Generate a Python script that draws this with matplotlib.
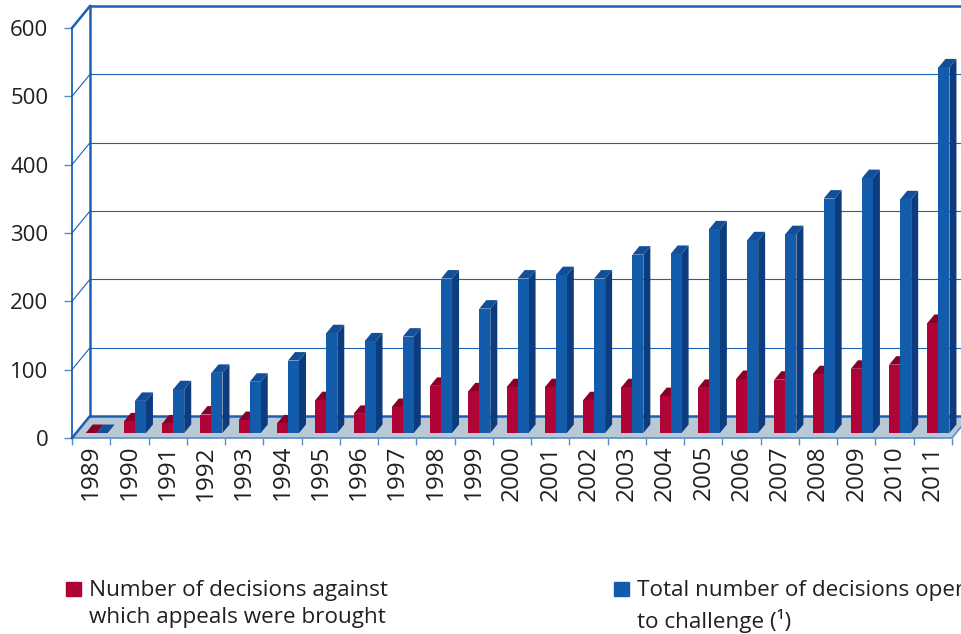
import matplotlib
matplotlib.use("Agg")
import matplotlib.pyplot as plt
import numpy as np

plt.rcParams["font.family"] = ["Open Sans", "DejaVu Sans"]

years = [str(y) for y in range(1989, 2012)]
appeals = [0, 17, 14, 27, 19, 14, 48, 28, 38, 69, 61, 67, 67, 48, 67, 54, 66, 79, 78, 86, 94, 100, 161]
total = [0, 47, 64, 88, 75, 106, 146, 134, 141, 226, 182, 226, 231, 226, 261, 262, 298, 282, 291, 343, 373, 342, 535]
y_ticks = [0, 100, 200, 300, 400, 500, 600]

W, H = 961, 634
TEXT = "#231f20"
LINE = "#1a60b4"
TICK = "#5b8cc8"

# pixel <-> data scale of the front plane
px_x = 1 / 38.26
px_y = 600 / 410

fig = plt.figure(figsize=(W / 100, H / 100), dpi=100)
ax = fig.add_axes([72 / W, 1 - 438 / H, 880 / W, 410 / H])
ax.set_xlim(0, 23)
ax.set_ylim(0, 600)
ax.patch.set_visible(False)
for s in ["top", "right", "bottom"]:
    ax.spines[s].set_visible(False)
ax.spines["left"].set_color(LINE)
ax.spines["left"].set_linewidth(1.3)

wall_dx = 18 * px_x
wall_dy = 22 * px_y
right = 25

# floor
ax.fill([0, 23, 23 + wall_dx, right, wall_dx], [0, 0, wall_dy, wall_dy, wall_dy],
        color="#b9c8d5", clip_on=False, zorder=1, lw=0)
ax.plot([0, 23, 23 + wall_dx], [0, 0, wall_dy], color=TICK, lw=1.2, clip_on=False, zorder=1.5)

# back wall and grid
for v in y_ticks:
    thick = v in (0, 600)
    lw = 1.8 if thick else 0.8
    ax.plot([wall_dx, right], [v + wall_dy, v + wall_dy], color=LINE, lw=lw, clip_on=False, zorder=2)
    ax.plot([0, wall_dx], [v, v + wall_dy], color=LINE, lw=lw, clip_on=False, zorder=2)
ax.plot([wall_dx, wall_dx], [wall_dy, 600 + wall_dy], color=LINE, lw=1.8, clip_on=False, zorder=2)

# bars
bar_w = 11 * px_x
bar_off = 13.7 * px_x
base = 5 * px_y
dep_x = 7 * px_x
dep_y = 8.5 * px_y


def draw_bars(x, vals, front, side, cap, z):
    ax.bar(x, vals, width=bar_w, bottom=base, align="edge", color=front, lw=0, zorder=z + 0.2)
    for xi, v in zip(x, vals):
        top = base + v
        xr = xi + bar_w
        ax.fill([xr, xr + dep_x, xr + dep_x, xr],
                [base, base + dep_y, top + dep_y, top], color=side, lw=0, clip_on=False, zorder=z)
        ax.fill([xi, xr, xr + dep_x, xi + dep_x],
                [top, top, top + dep_y, top + dep_y], color=cap, lw=0, clip_on=False, zorder=z + 0.1)


pos = np.arange(len(years))
draw_bars(pos + bar_off, appeals, "#b00336", "#7d0026", "#8a0029", 3)
draw_bars(pos + bar_off + bar_w, total, "#135cac", "#0d3c7e", "#124f98", 4)

ax.set_yticks(y_ticks)
ax.set_xticks(np.arange(len(years) + 1))
ax.set_xticklabels([])
ax.set_xticks(pos + 0.5, labels=years, minor=True)
ax.tick_params(axis="y", length=6, width=1, color=TICK, pad=11, labelsize=16, labelcolor=TEXT)
ax.tick_params(axis="x", which="major", length=5, width=1, color=TICK)
ax.tick_params(axis="x", which="minor", length=0, pad=5, labelsize=17.5, labelcolor=TEXT, labelrotation=90)


# legend, placed by hand like the original
def legend_entry(x, color, text):
    fig.patches.append(plt.Rectangle((x / W, 1 - 596 / H), 15 / W, 14 / H, color=color,
                                     transform=fig.transFigure))
    fig.text((x + 23) / W, 1 - 580 / H, text, fontsize=16.2, color=TEXT, va="top", linespacing=1.4)


legend_entry(66, "#b00336", "Number of decisions against\nwhich appeals were brought")
legend_entry(614, "#135cac", "Total number of decisions open\nto challenge (¹)")

fig.savefig("out.png", dpi=100)
